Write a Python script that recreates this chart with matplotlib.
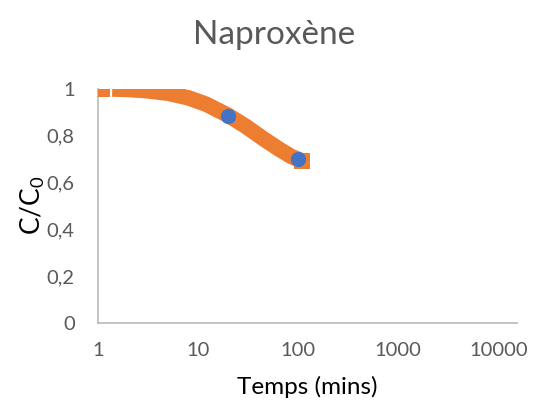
import matplotlib
matplotlib.use("Agg")
import matplotlib.pyplot as plt
from matplotlib.ticker import FixedLocator, FixedFormatter

plt.rcParams['font.family'] = ['Lato', 'DejaVu Sans']

# Experimental points (blue)
exp_t = [20, 100]
exp_c = [0.883, 0.70]

# Model curve (orange line)
model_t = [1.38, 2, 3, 5, 8, 12, 20, 30, 45, 65, 85, 110]
model_c = [0.998, 0.996, 0.991, 0.980, 0.960, 0.933, 0.885, 0.838, 0.785, 0.74, 0.71, 0.69]

# Orange square markers
sq_t = [1.1, 110]
sq_c = [1.0, 0.69]

xticks = [1, 10, 100, 1000, 10000]
xticklabels = ["1", "10", "100", "1000", "10000"]
yticks = [0, 0.2, 0.4, 0.6, 0.8, 1.0]
yticklabels = ["0", "0,2", "0,4", "0,6", "0,8", "1"]

orange = "#ED7D31"
blue = "#4472C4"
grey_txt = "#595959"

fig = plt.figure(figsize=(5.35, 4.08), dpi=100)
ax = fig.add_axes([0.1837, 0.209, 0.7826, 0.574])

ax.plot(model_t, model_c, color=orange, lw=11.2, solid_capstyle='butt',
        solid_joinstyle='round', zorder=2)
ax.plot(sq_t, sq_c, linestyle='none', marker='s', markersize=11,
        color=orange, markeredgewidth=0, zorder=3)
ax.plot(exp_t, exp_c, linestyle='none', marker='o', markersize=11,
        color=blue, markeredgewidth=0, zorder=4)

ax.set_xscale('log')
ax.set_xlim(1, 10 ** 4.187)
ax.set_ylim(0, 1)
ax.xaxis.set_major_locator(FixedLocator(xticks))
ax.xaxis.set_major_formatter(FixedFormatter(xticklabels))
ax.xaxis.set_minor_locator(FixedLocator([]))
ax.yaxis.set_major_locator(FixedLocator(yticks))
ax.yaxis.set_major_formatter(FixedFormatter(yticklabels))

for s in ['top', 'right']:
    ax.spines[s].set_visible(False)
for s in ['left', 'bottom']:
    ax.spines[s].set_color('#BFBFBF')
    ax.spines[s].set_linewidth(1.3)

ax.tick_params(axis='both', length=0, labelsize=14.5, labelcolor=grey_txt)
ax.tick_params(axis='x', pad=14)
ax.tick_params(axis='y', pad=17)

ax.set_xlabel("Temps (mins)", fontsize=17.5, color='black', labelpad=12)
ax.set_ylabel(r"$\mathregular{C/C_0}$", fontsize=19, color='black', labelpad=0)

fig.text(0.512, 0.915, "Naproxène", ha='center', va='center',
         fontsize=24, color=grey_txt)

fig.savefig("out.png", dpi=100)
